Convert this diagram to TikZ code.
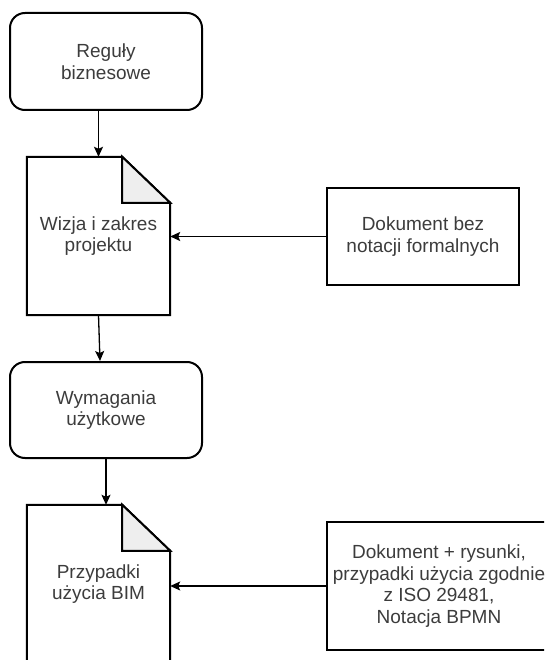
\documentclass[tikz,border=0pt]{standalone}
\usepackage{fontspec}
\setmainfont{Liberation Sans}
\usetikzlibrary{calc,arrows.meta}
\definecolor{txt}{RGB}{60,60,60}
\definecolor{foldgray}{RGB}{238,238,238}

\begin{document}
\begin{tikzpicture}[x=1pt,y=-1pt,
  every node/.style={font=\fontsize{19}{21.5}\selectfont, text=txt, align=center, inner sep=0pt},
  procbox/.style={draw=black, line width=2pt, rounded corners=15pt,
                  minimum width=192pt, minimum height=97pt},
  infobox/.style={draw=black, line width=2pt},
  docbox/.style={minimum width=143pt, minimum height=158pt},
  docline/.style={draw=black, line width=2pt, line join=miter},
  conn/.style={draw=black, line width=1.3pt,
               -{Stealth[length=10pt,width=9pt,inset=2pt]}}
]
\useasboundingbox (0,0) rectangle (544,660);
\clip (0,0) rectangle (544,660);

% process boxes
\node[procbox] (regul) at (106,61.5) {Reguły\\biznesowe};
\node[procbox, minimum height=96pt] (wymag) at (106,410) {Wymagania\\użytkowe};

% documents
\node[docbox] (wizja) at (98.5,236) {Wizja i zakres\\projektu};
\node[docbox] (przyp) at (98.5,584) {Przypadki\\użycia BIM};

\foreach \d in {wizja,przyp}{
  \draw[docline] (\d.north west) -- ($(\d.north east)+(-48,0)$)
    -- ($(\d.north east)+(0,46)$) -- (\d.south east) -- (\d.south west) -- cycle;
  \draw[docline, fill=foldgray] ($(\d.north east)+(-48,0)$)
    -- ($(\d.north east)+(-48,46)$) -- ($(\d.north east)+(0,46)$) -- cycle;
}

% side notes
\node[infobox, minimum width=192pt, minimum height=97pt] (notat) at (423,236.5)
  {Dokument bez\\notacji formalnych};
\node[infobox, minimum width=224pt, minimum height=128pt] (bpmn) at (439,586)
  {Dokument + rysunki,\\przypadki użycia zgodnie\\z ISO 29481,\\Notacja BPMN};

% connectors
\draw[conn] (regul.south -| wizja.north) -- (wizja.north);
\draw[conn] (wizja.south) -- ($(wymag.north)+(-6,0)$);
\draw[conn] (wymag.south) -- (wymag.south |- przyp.north);
\draw[conn] (notat.west) -- (notat.west -| wizja.east);
\draw[conn] (bpmn.west) -- (bpmn.west -| przyp.east);
\end{tikzpicture}
\end{document}
